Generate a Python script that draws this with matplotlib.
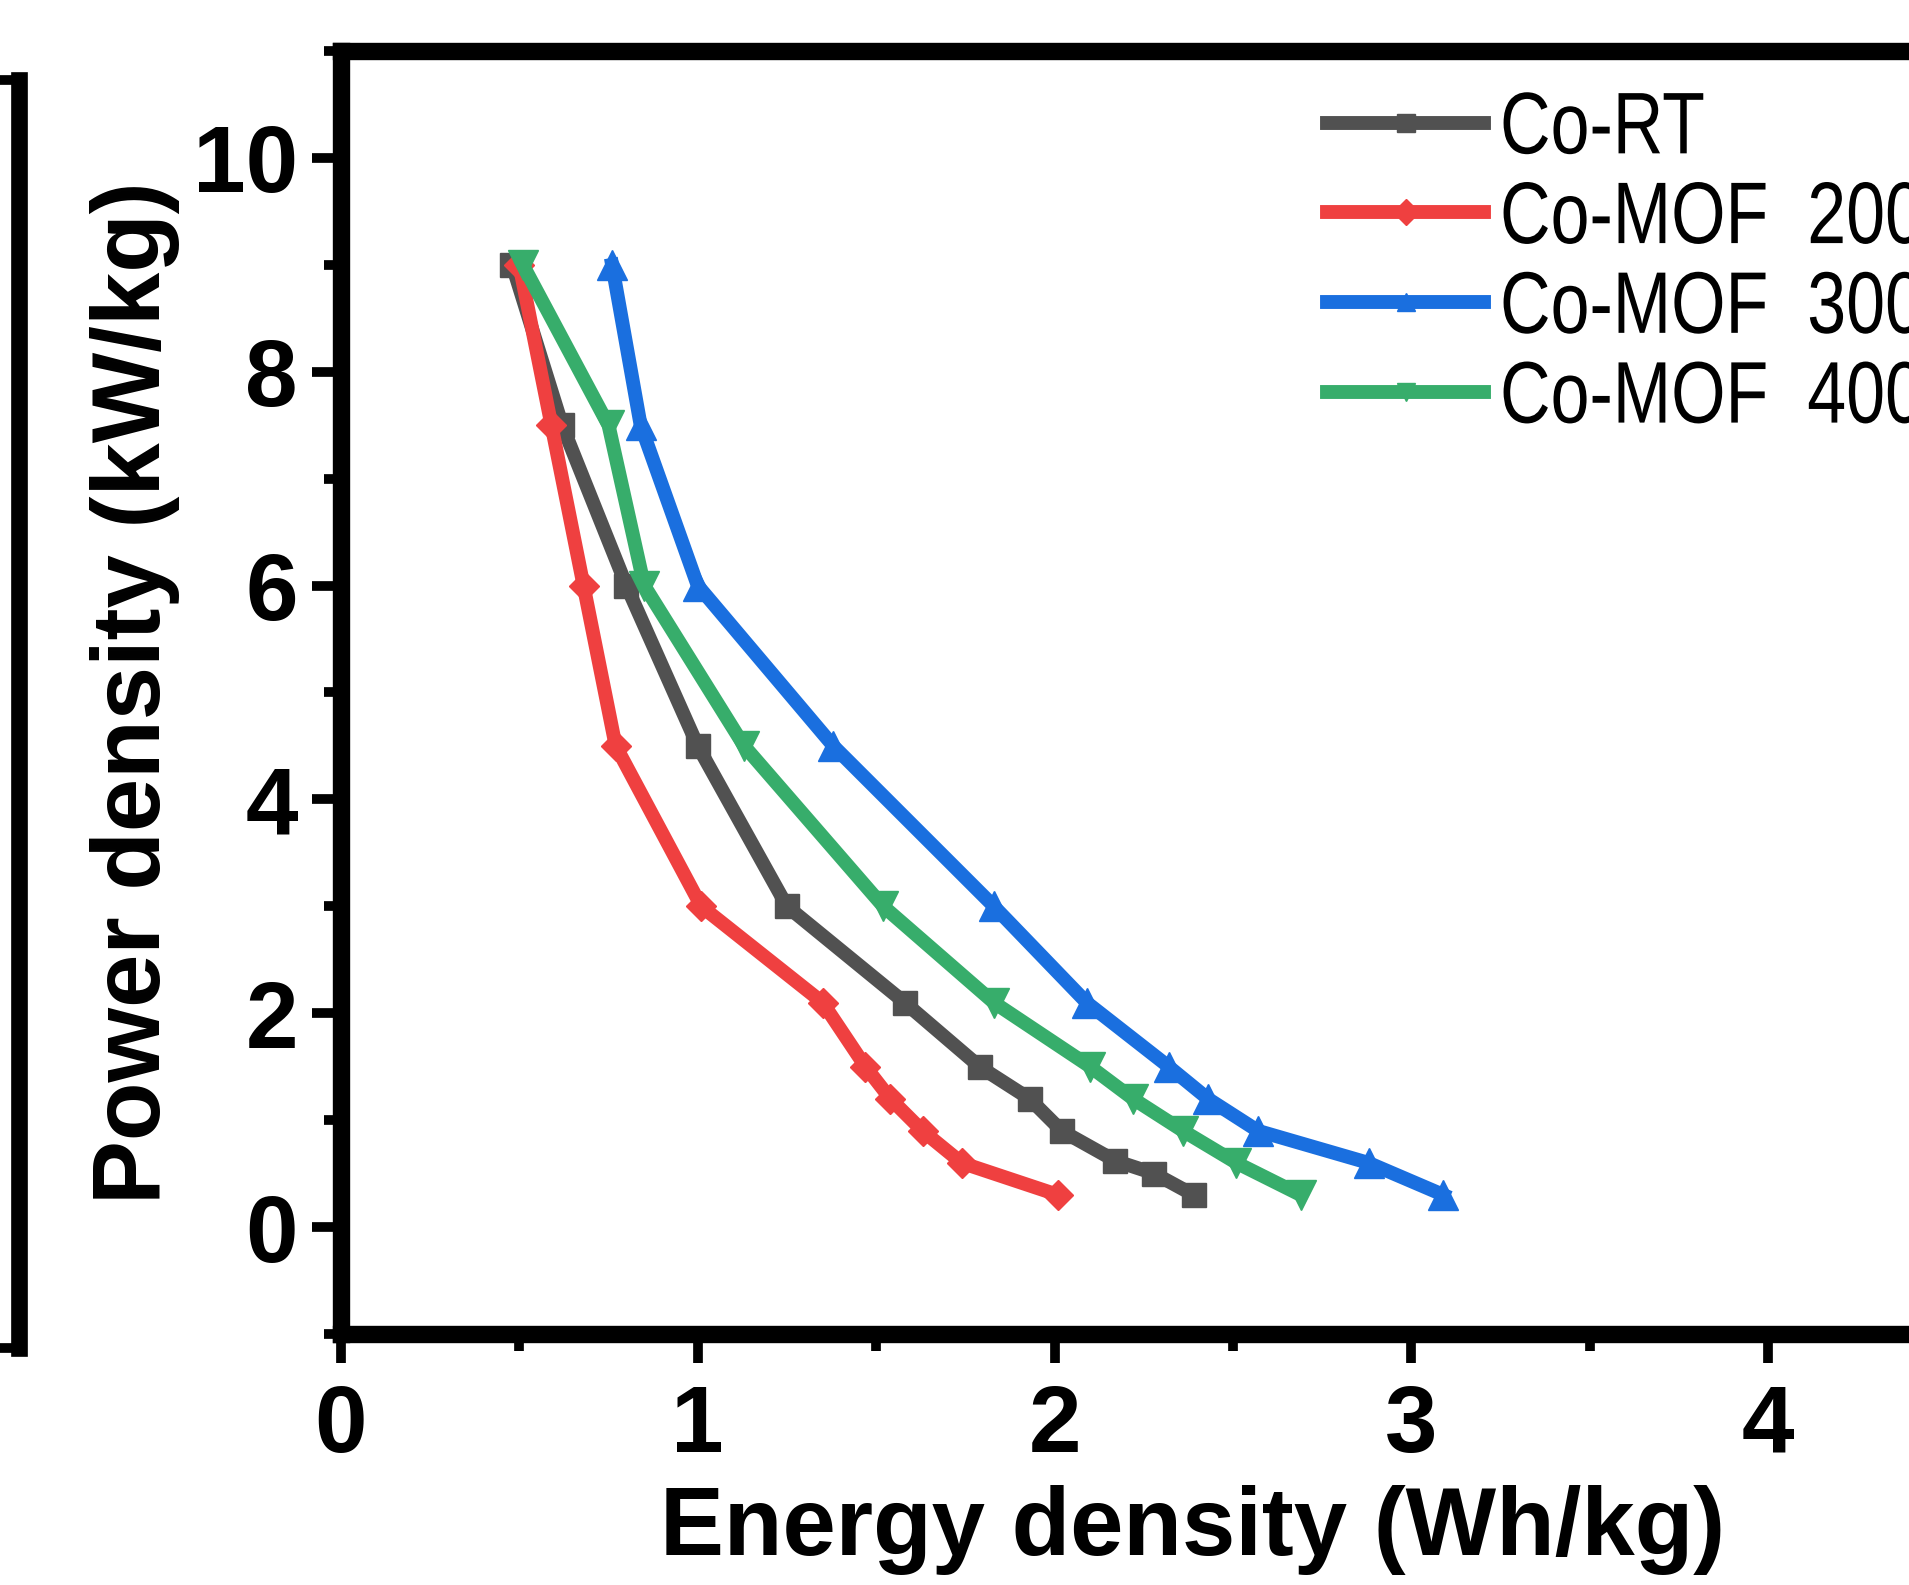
import matplotlib
matplotlib.use("Agg")
import matplotlib.pyplot as plt
from matplotlib import font_manager
from matplotlib.lines import Line2D
from matplotlib.ticker import MultipleLocator
from matplotlib.patheffects import AbstractPathEffect
from matplotlib.transforms import Affine2D

# ---- data ----
labels = ["Co-RT", "Co-MOF  200", "Co-MOF  300", "Co-MOF  400"]
rt_x = [0.48, 0.62, 0.80, 1.00, 1.25, 1.58, 1.79, 1.93, 2.02, 2.17, 2.28, 2.39]
rt_y = [9.0, 7.5, 6.0, 4.5, 3.0, 2.1, 1.5, 1.2, 0.9, 0.62, 0.5, 0.3]
m200_x = [0.50, 0.59, 0.68, 0.77, 1.01, 1.35, 1.47, 1.54, 1.63, 1.74, 2.01]
m200_y = [9.0, 7.5, 6.0, 4.5, 3.0, 2.1, 1.5, 1.2, 0.9, 0.6, 0.3]
m300_x = [0.76, 0.84, 1.00, 1.38, 1.83, 2.09, 2.32, 2.43, 2.57, 2.88, 3.09]
m300_y = [9.0, 7.5, 6.0, 4.5, 3.0, 2.1, 1.5, 1.2, 0.9, 0.6, 0.3]
m400_x = [0.51, 0.75, 0.85, 1.13, 1.52, 1.83, 2.10, 2.22, 2.36, 2.51, 2.69]
m400_y = [9.0, 7.5, 6.0, 4.5, 3.0, 2.1, 1.5, 1.2, 0.9, 0.6, 0.3]
x_ticks = [0, 1, 2, 3, 4]
y_ticks = [0, 2, 4, 6, 8, 10]

colors = ["#515151", "#EF4040", "#1A6FDF", "#37AD6B"]
markers = ["s", "D", "^", "v"]

avail = {f.name for f in font_manager.fontManager.ttflist}
main_font = "Liberation Sans" if "Liberation Sans" in avail else "DejaVu Sans"


class Squeeze(AbstractPathEffect):
    """Draw text horizontally condensed (narrow-font look)."""
    def __init__(self, sx):
        super().__init__()
        self.sx = sx

    def draw_path(self, renderer, gc, tpath, affine, rgbFace=None):
        renderer.draw_path(gc, tpath, Affine2D().scale(self.sx, 1.0) + affine, rgbFace)


fig = plt.figure(figsize=(19.09, 15.85), dpi=100)
ax = fig.add_axes([0.1786, 0.1584, 0.9345, 0.8094])

series = [(rt_x, rt_y), (m200_x, m200_y), (m300_x, m300_y), (m400_x, m400_y)]
msizes = [17, 15, 21, 21]
for (xs, ys), lab, c, m, ms in zip(series, labels, colors, markers, msizes):
    ax.plot(xs, ys, color=c, lw=10, marker=m, ms=ms, mec=c, mfc=c, label=lab)

ax.set_xlim(0, 5)
ax.set_ylim(-1, 11)
ax.set_xticks(x_ticks)
ax.set_yticks(y_ticks)
ax.xaxis.set_minor_locator(MultipleLocator(0.5))
ax.yaxis.set_minor_locator(MultipleLocator(1))

for s in ax.spines.values():
    s.set_linewidth(12.5)
ax.tick_params(which="major", direction="out", length=21, width=7, pad=10,
               labelsize=68, top=False, right=False)
ax.tick_params(which="minor", direction="out", length=12, width=7,
               top=False, right=False)
ax.tick_params(axis="x", which="major", pad=14)
for t in ax.get_xticklabels() + ax.get_yticklabels():
    t.set_fontfamily(main_font)
    t.set_fontweight("bold")

ax.set_xlabel("Energy density (Wh/kg)", fontsize=69, fontweight="bold",
              fontfamily=main_font)
ax.set_ylabel("Power density (kW/kg)", fontsize=69, fontweight="bold",
              fontfamily=main_font)
ax.xaxis.set_label_coords(0.4776, -0.118)
ax.yaxis.set_label_coords(-0.090, 0.5)

leg = ax.legend(loc="upper left", bbox_to_anchor=(0.695, 0.943),
                bbox_transform=fig.transFigure, frameon=False,
                prop={"family": main_font, "size": 63},
                handlelength=1.8, handletextpad=0.18, labelspacing=0.1,
                borderaxespad=0, borderpad=0)
for h in leg.legend_handles:
    h.set_markersize(13)
for t in leg.get_texts():
    t.set_path_effects([Squeeze(0.80)])

# fragment of neighbouring panel on the left edge
W, H = 1909, 1585
fx = 19 / W
fig.add_artist(Line2D([fx, fx], [1 - 80 / H, 1 - 1348 / H], color="black",
                      lw=12, transform=fig.transFigure, solid_capstyle="projecting"))
fig.add_artist(Line2D([0, fx], [1 - 80 / H, 1 - 80 / H], color="black",
                      lw=7, transform=fig.transFigure))
fig.add_artist(Line2D([0, fx], [1 - 1348 / H, 1 - 1348 / H], color="black",
                      lw=7, transform=fig.transFigure))

fig.savefig("out.png", dpi=100)
